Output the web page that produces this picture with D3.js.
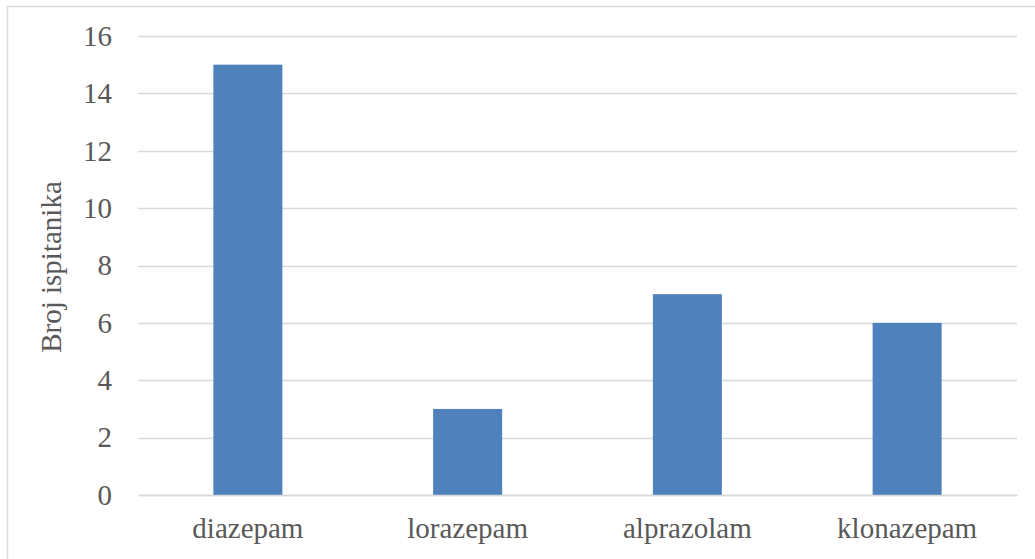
<!DOCTYPE html>
<html><head><meta charset="utf-8">
<script src="https://cdn.jsdelivr.net/npm/d3@7"></script>
<style>body{margin:0;background:#fff}svg{display:block}</style>
</head><body>
<svg id="c" width="1035" height="559"></svg>
<script>
const categories = ["diazepam", "lorazepam", "alprazolam", "klonazepam"];
const values = [15, 3, 7, 6];
const yTicks = [0, 2, 4, 6, 8, 10, 12, 14, 16];
const yTitle = "Broj ispitanika";

const svg = d3.select("#c");
const font = "'Liberation Serif','Times New Roman',serif";
const fs = 29;
svg.append("rect").attr("x", 7.5).attr("y", 6.5).attr("width", 1040).attr("height", 560)
  .attr("fill", "#fff").attr("stroke", "#d9d9d9").attr("stroke-width", 1.5);

const x = d3.scaleBand().domain(categories).range([138, 1017]).paddingInner(0.686).paddingOuter(0.343);
const y = d3.scaleLinear().domain([0, 16]).range([495, 36]);

const grid = svg.append("g");
grid.selectAll("line").data(yTicks).join("line")
  .attr("x1", 138).attr("x2", 1017)
  .attr("y1", d => Math.round(y(d)) + 0.5).attr("y2", d => Math.round(y(d)) + 0.5)
  .attr("stroke", "#d9d9d9").attr("stroke-width", 1.5);

svg.append("g").selectAll("rect").data(values).join("rect")
  .attr("x", (d, i) => x(categories[i]))
  .attr("width", x.bandwidth())
  .attr("y", d => y(d))
  .attr("height", d => y(0) - y(d))
  .attr("fill", "#4f81bd");

const yAxis = svg.append("g").attr("transform", "translate(138,0)")
  .call(d3.axisLeft(y).tickValues(yTicks).tickSize(0).tickPadding(26));
yAxis.select(".domain").remove();
yAxis.attr("font-family", font).attr("font-size", fs);
yAxis.selectAll("text").attr("fill", "#595959");

const xAxis = svg.append("g").attr("transform", "translate(0,495)")
  .call(d3.axisBottom(x).tickSize(0).tickPadding(22));
xAxis.select(".domain").attr("stroke", "#d9d9d9").attr("stroke-width", 1.5);
xAxis.attr("font-family", font).attr("font-size", fs);
xAxis.selectAll("text").attr("fill", "#595959");

svg.append("text").attr("transform", "translate(61,267) rotate(-90)")
  .attr("text-anchor", "middle").attr("font-family", font).attr("font-size", fs)
  .attr("fill", "#595959").text(yTitle);
</script>
</body></html>
